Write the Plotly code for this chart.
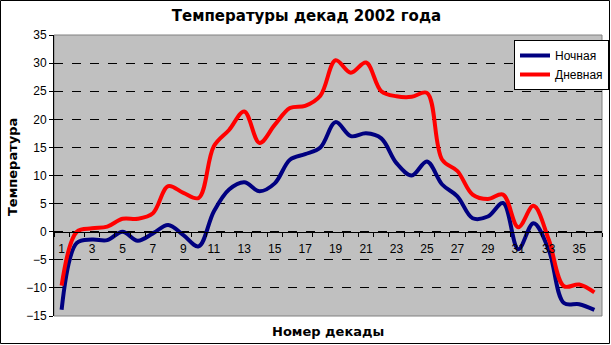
import plotly.graph_objects as go

decades = list(range(1, 37))
night = [-13.9, -2.0, -1.4, -1.5, 0.0, -1.6, -0.3, 1.2, -0.6, -2.6, 3.6, 7.5,
         8.8, 7.2, 8.6, 12.8, 13.8, 15.0, 19.5, 17.0, 17.5, 16.6, 12.2, 10.0,
         12.5, 8.4, 6.3, 2.4, 2.7, 5.1, -3.1, 1.5, -3.2, -12.7, -12.9, -13.9]
day = [-9.6, 0.0, 0.6, 0.9, 2.3, 2.3, 3.3, 8.1, 6.9, 6.0, 15.2, 18.1,
       21.4, 15.8, 19.0, 22.0, 22.4, 24.2, 30.5, 28.3, 30.1, 25.0, 24.1, 24.0,
       24.7, 12.8, 10.8, 6.6, 5.8, 6.6, 0.8, 4.6, -1.4, -9.7, -9.4, -10.8]
xticks = list(range(1, 36, 2))

FONT = "Liberation Sans, Arial, sans-serif"
BOLD = "DejaVu Sans, Verdana, sans-serif"

fig = go.Figure()
fig.add_trace(go.Scatter(x=decades, y=night, mode="lines", name="Ночная",
                         line=dict(color="#000080", width=4, shape="spline", smoothing=1)))
fig.add_trace(go.Scatter(x=decades, y=day, mode="lines", name="Дневная",
                         line=dict(color="#FF0000", width=4, shape="spline", smoothing=1)))

fig.update_layout(
    width=611, height=345,
    margin=dict(l=54, r=9, t=35, b=29, autoexpand=False),
    paper_bgcolor="white",
    plot_bgcolor="#C0C0C0",
    font=dict(family=FONT, size=12, color="black"),
    title=dict(text="<b>Температуры декад 2002 года</b>", x=(306.5 - 54) / 548, xref="paper",
               xanchor="center", y=1 - 15.5 / 345, yanchor="middle", yref="container",
               font=dict(family=BOLD, size=15, color="black")),
    showlegend=True,
    legend=dict(x=(514 - 54) / 548, y=(316 - 40) / 281, xanchor="left", yanchor="top",
                bgcolor="white", bordercolor="black", borderwidth=1,
                font=dict(family=FONT, size=12, color="black"),
                tracegroupgap=0, itemwidth=30),
    xaxis=dict(range=[0.5, 36.5], tickvals=xticks, ticktext=[str(v) for v in xticks],
               ticks="", showgrid=False, zeroline=False,
               showline=True, linecolor="black", linewidth=1,
               anchor="free", position=0.3,
               minor=dict(tick0=0.5, dtick=1, ticks="outside", ticklen=4,
                          tickcolor="black", showgrid=False),
               ticklabelstandoff=6,
               tickfont=dict(family=FONT, size=12, color="black")),
    yaxis=dict(range=[-15, 35], dtick=5, tick0=-15,
               ticks="outside", ticklen=4, tickcolor="black",
               showgrid=True, gridcolor="black", griddash="dash", gridwidth=1,
               zeroline=False, showline=True, linecolor="black", linewidth=1,
               tickfont=dict(family=FONT, size=12, color="black")),
)

# plot area frame (top/right grey) and outer chart border
fig.add_shape(type="rect", xref="paper", yref="paper", x0=0, x1=1, y0=0, y1=1,
              line=dict(color="#808080", width=1), layer="below")
fig.add_shape(type="rect", xref="paper", yref="paper",
              x0=(0.5 - 54) / 548, x1=(609.5 - 54) / 548,
              y0=(316 - 343.5) / 281, y1=(316 - 0.5) / 281,
              line=dict(color="black", width=1))
fig.add_annotation(text="<b>Температура</b>", xref="paper", yref="paper",
                   x=(12 - 54) / 548, y=(316 - 167) / 281, xanchor="center", yanchor="middle",
                   textangle=-90, showarrow=False,
                   font=dict(family=BOLD, size=13, color="black"))
fig.add_annotation(text="<b>Номер декады</b>", xref="paper", yref="paper",
                   x=(327.5 - 54) / 548, y=(316 - 331) / 281, xanchor="center", yanchor="middle",
                   showarrow=False,
                   font=dict(family=BOLD, size=13, color="black"))

fig.write_html("out.html")
